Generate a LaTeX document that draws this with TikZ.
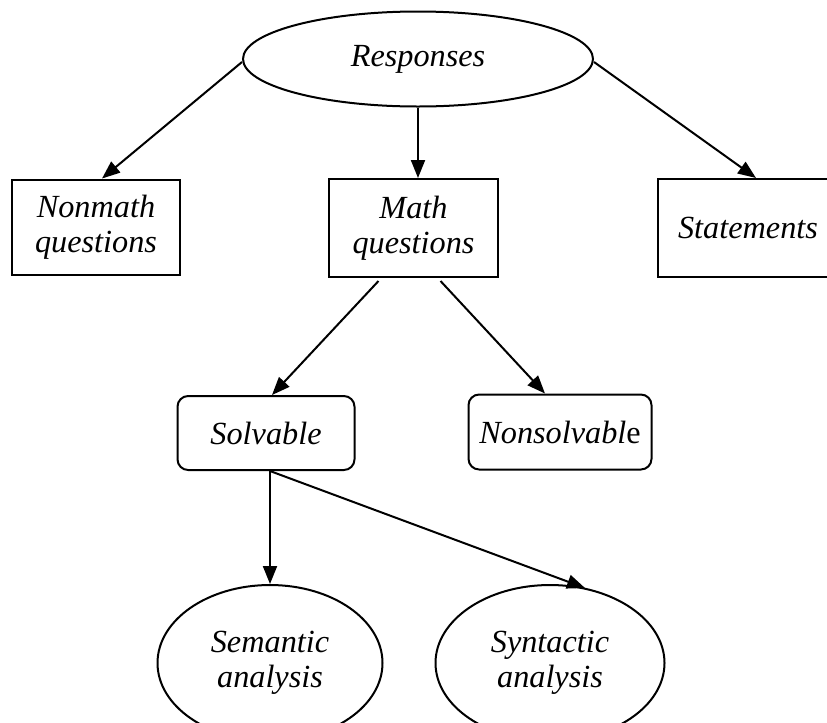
\documentclass[tikz,border=0pt]{standalone}
\usepackage{fontspec}
\setmainfont{Liberation Serif}
\usetikzlibrary{shapes.geometric,arrows.meta,calc}
\begin{document}
\begin{tikzpicture}[x=0.75pt,y=-0.75pt,
  every node/.style={font=\fontsize{24.2}{26.5}\selectfont\itshape, align=center, line width=1.5pt, inner sep=0pt},
  ell/.style={draw, ellipse},
  sq/.style={draw, rectangle},
  rnd/.style={draw, rectangle, rounded corners=8pt},
  conn/.style={line width=1.5pt, -{Triangle[length=13.5pt,width=10.5pt]}}]
\useasboundingbox (0,0) rectangle (827,722);
\clip (0,0) rectangle (827,722);
\node[ell, minimum width=262.5pt, minimum height=71.25pt] (resp) at (418,59) {Responses};
\node[sq, minimum width=126pt, minimum height=71.25pt] (nonmath) at (96,227) {Nonmath\\questions};
\node[sq, minimum width=126.75pt, minimum height=73.5pt] (math) at (413.5,228) {Math\\questions};
\node[sq, minimum width=135pt, minimum height=73.5pt] (stat) at (748,228) {Statements};
\node[rnd, minimum width=132.75pt, minimum height=55.5pt] (solv) at (266,433) {Solvable};
\node[rnd, minimum width=137.25pt, minimum height=56.25pt] (nsolv) at (560,432) {Nonsolvabl\upshape e};
\node[ell, minimum width=168.75pt, minimum height=117pt] (sem) at (270,663) {Semantic\\analysis};
\node[ell, minimum width=171.75pt, minimum height=117pt] (syn) at (550,663) {Syntactic\\analysis};
\draw[conn] ($(resp.west)+(0,3)$) -- ($(nonmath.north)+(6,0)$);
\draw[conn] (resp.south) -- ($(math.north)+(4.5,0)$);
\draw[conn] ($(resp.east)+(0,3)$) -- ($(stat.north)+(8,0)$);
\draw[conn] ($(math.south)+(-35,3)$) -- ($(solv.north)+(6,0)$);
\draw[conn] ($(math.south)+(27,3)$) -- ($(nsolv.north)+(-15,0)$);
\coordinate (sb) at ($(solv.south)+(4,0)$);
\draw[conn] (sb) -- (sem.north);
\draw[conn] (sb) -- ($(syn.north)+(35,4)$);
\end{tikzpicture}
\end{document}
